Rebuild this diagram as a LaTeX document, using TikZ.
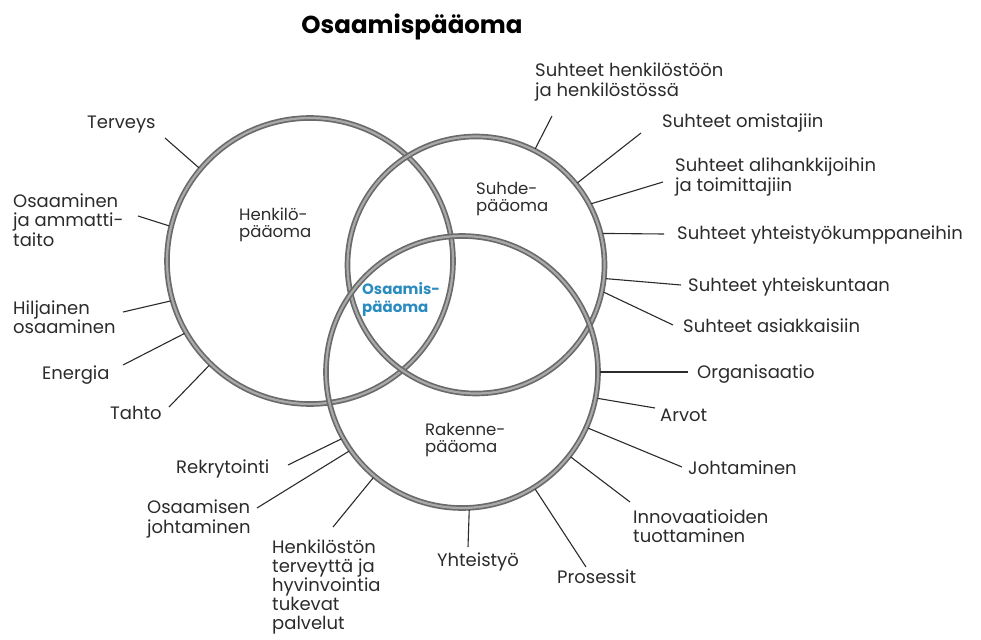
\documentclass[tikz,border=0pt]{standalone}
\usepackage{fontspec}
\setmainfont{Poppins}
\definecolor{ringdark}{HTML}{6A6A6A}
\definecolor{ringlight}{HTML}{A9A9A9}
\definecolor{txt}{HTML}{2B2B2B}
\definecolor{osblue}{HTML}{2A8BBF}
\begin{document}
\begin{tikzpicture}[x=1pt,y=-1pt,
  ring/.style={circle, draw=ringdark, double=ringlight, double distance=2.2pt, line width=1.7pt, inner sep=0pt, outer sep=2pt},
  lbl/.style={font=\fontsize{18}{19.5}\selectfont, text=txt, align=left, inner sep=0pt},
  clbl/.style={font=\fontsize{16.5}{17.5}\selectfont, text=txt, align=left, inner sep=0pt},
  oslbl/.style={font=\fontsize{15}{18}\selectfont\bfseries, align=left, inner sep=0pt, anchor=west},
  conn/.style={draw=txt, line width=1.1pt},
]
\useasboundingbox (0,0) rectangle (981,639);

% title
\node[font=\fontsize{24.5}{26}\selectfont\bfseries, text=black] (title) at (412,27) {Osaamispääoma};

% circles
\node[ring, minimum size=286pt] (H) at (310,261) {};
\node[ring, minimum size=257pt] (S) at (476,265) {};
\node[ring, minimum size=272pt] (R) at (462,372) {};

% circle labels
\node[clbl, anchor=west] (Hl) at (239,225) {Henkilö-\\pääoma};
\node[clbl, anchor=west] (Sl) at (476,199) {Suhde-\\pääoma};
\node[clbl, anchor=west] (Rl) at (425,440) {Rakenne-\\pääoma};
\node[oslbl, text=osblue] (Ol) at (362,299) {Osaamis-\\pääoma};

% left labels (Henkilöpääoma)
\node[lbl, anchor=west] (Ter) at (87,125) {Terveys};
\node[lbl, anchor=west] (Osa) at (13,220) {Osaaminen\\ja ammatti-\\taito};
\node[lbl, anchor=west] (Hil) at (13,317) {Hiljainen\\osaaminen};
\node[lbl, anchor=west] (Ene) at (42,375) {Energia};
\node[lbl, anchor=west] (Tah) at (110,413) {Tahto};

\coordinate (cTer) at (165,138);
\coordinate (cOsa) at (138,216);
\coordinate (cHil) at (123,312);
\coordinate (cEne) at (123,365);
\coordinate (cTah) at (169,407);
\draw[conn] (cTer) -- (H.140);
\draw[conn] (cOsa) -- (H.166);
\draw[conn] (cHil) -- (H.196);
\draw[conn] (cEne) -- (H.210);
\draw[conn] (cTah) -- (H.226);

% right labels (Suhdepääoma)
\node[lbl, anchor=west] (Shk) at (535,82) {Suhteet henkilöstöön\\ja henkilöstössä};
\node[lbl, anchor=west] (Som) at (662,123) {Suhteet omistajiin};
\node[lbl, anchor=west] (Sal) at (675,177) {Suhteet alihankkijoihin\\ja toimittajiin};
\node[lbl, anchor=west] (Syk) at (677,235) {Suhteet yhteistyökumppaneihin};
\node[lbl, anchor=west] (Syt) at (688,287) {Suhteet yhteiskuntaan};
\node[lbl, anchor=west] (Sas) at (683,326) {Suhteet asiakkaisiin};

\coordinate (cShk) at (552,116);
\coordinate (cSom) at (641,133);
\coordinate (cSal) at (663,182);
\coordinate (cSyk) at (664,234);
\coordinate (cSyt) at (681,285);
\coordinate (cSas) at (673,325);
\draw[conn] (cShk) -- (S.63);
\draw[conn] (cSom) -- (S.39);
\draw[conn] (cSal) -- (S.28.5);
\draw[conn] (cSyk) -- (S.14);
\draw[conn] (cSyt) -- (S.-6);
\draw[conn] (cSas) -- (S.-12);

% Rakennepääoma labels
\node[lbl, anchor=west] (Org) at (697,374) {Organisaatio};
\node[lbl, anchor=west] (Arv) at (660,415) {Arvot};
\node[lbl, anchor=west] (Joh) at (688,468) {Johtaminen};
\node[lbl, anchor=west] (Inn) at (633,526) {Innovaatioiden\\tuottaminen};
\node[lbl, anchor=west] (Pro) at (557,577) {Prosessit};
\node[lbl] (Yht) at (478,562) {Yhteistyö};
\node[lbl, anchor=west, font=\fontsize{18}{19}\selectfont] (Hen) at (272,587) {Henkilöstön\\terveyttä ja\\hyvinvointia\\tukevat\\palvelut};
\node[lbl, anchor=west] (Osj) at (147,519) {Osaamisen\\johtaminen};
\node[lbl, anchor=west] (Rek) at (176,469) {Rekrytointi};

\coordinate (cOrg) at (688,372);
\coordinate (cArv) at (655,408);
\coordinate (cJoh) at (682,467);
\coordinate (cInn) at (630,502);
\coordinate (cPro) at (586,567);
\coordinate (cYht) at (468,547);
\coordinate (cHen) at (333,527);
\coordinate (cOsj) at (257,508);
\coordinate (cRek) at (288,465);
\draw[conn] (cOrg) -- (R.0);
\draw[conn] (cArv) -- (R.-11);
\draw[conn] (cJoh) -- (R.-24);
\draw[conn] (cInn) -- (R.-38.5);
\draw[conn] (cPro) -- (R.-58);
\draw[conn] (cYht) -- (R.-87.5);
\draw[conn] (cHen) -- (R.-130);
\draw[conn] (cOsj) -- (R.-145.5);
\draw[conn] (cRek) -- (R.-151);
\end{tikzpicture}
\end{document}
